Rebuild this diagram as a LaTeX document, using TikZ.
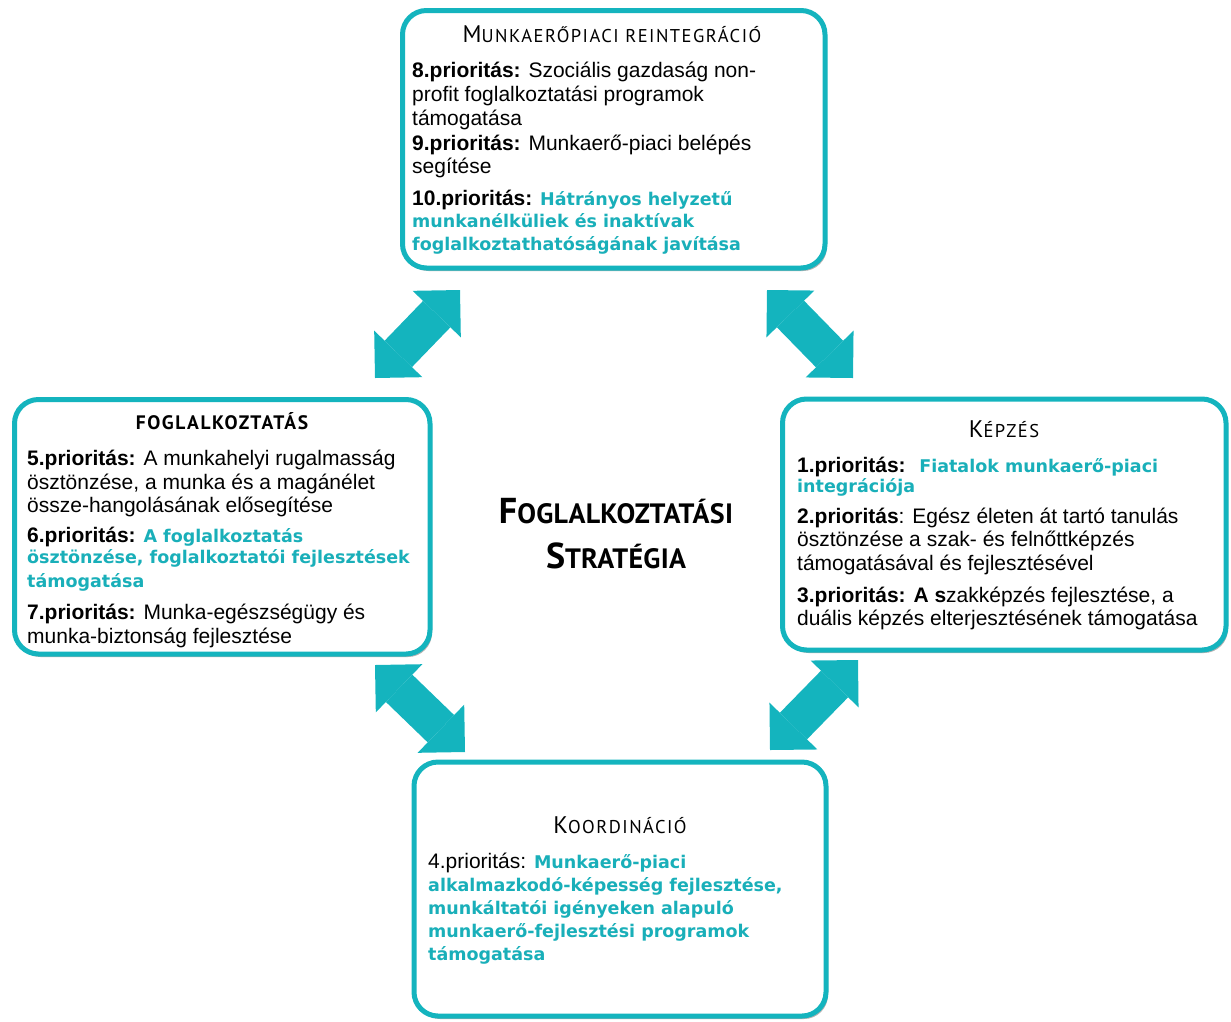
\documentclass[tikz,border=0pt]{standalone}
\usepackage{fontspec}
\setmainfont{Liberation Sans}
\newfontfamily\tealface{DejaVu Sans}
\newfontfamily\headface[LetterSpace=8]{PT Sans}
\newfontfamily\centface[LetterSpace=1]{PT Sans}
\usetikzlibrary{arrows.meta,shadows}
\definecolor{teal1}{RGB}{20,180,190}
\definecolor{tealtxt}{RGB}{25,175,185}
\newcommand\tl[1]{{\color{tealtxt}\tealface\bfseries\fontsize{17.5}{23.5}\selectfont #1}}
\newcommand\pr[1]{\textbf{#1}}
\newcommand\bigc[1]{{\fontsize{24}{24}\selectfont #1}}
\newcommand\smallc[1]{{\fontsize{18.5}{24}\selectfont #1}}
\begin{document}
\begin{tikzpicture}[x=1pt,y=-1pt,
  box/.style={draw=teal1, line width=5pt, rounded corners=24pt, fill=white,
     drop shadow={shadow xshift=2pt, shadow yshift=-3pt, opacity=0.3, fill=black}, inner sep=0pt},
  body/.style={anchor=base west, align=left, inner sep=0pt, font=\fontsize{21}{23.5}\selectfont},
  title/.style={anchor=base, inner sep=0pt, font=\headface},
  centre/.style={anchor=base, inner sep=0pt, font=\centface\bfseries},
  dbl/.style={line width=38pt, draw=teal1,
     {Triangle[width=67pt,length=33.5pt,line width=0pt]}-{Triangle[width=67pt,length=33.5pt,line width=0pt]}}
]
\useasboundingbox (0,0) rectangle (1231,1021);

% boxes
\node[box, minimum width=422.5pt, minimum height=257.5pt] (topbox) at (613.75,139.25) {};
\node[box, minimum width=415.5pt, minimum height=254.5pt] (leftbox) at (222.25,526.75) {};
\node[box, minimum width=443.5pt, minimum height=251pt] (rightbox) at (1004.25,524.5) {};
\node[box, minimum width=412pt, minimum height=254pt] (botbox) at (620,889) {};

% titles
\node[title] (toptitle) at (612,42) {\bigc{M}\smallc{UNKAERŐPIACI REINTEGRÁCIÓ}};
\node[title] (lefttitle) at (222,429) {\fontsize{19.5}{24}\selectfont\bfseries FOGLALKOZTATÁS};
\node[title] (righttitle) at (1004,437) {\bigc{K}\smallc{ÉPZÉS}};
\node[title] (bottitle) at (620,833) {\bigc{K}\smallc{OORDINÁCIÓ}};

% bodies (anchored at the baseline of the last line)
\node[body] (topbody) at (412,250) {\pr{8.prioritás:} Szociális gazdaság non-\\[0.5pt]
profit foglalkoztatási programok\\[1pt]
támogatása\\[1pt]
\pr{9.prioritás:} Munkaerő-piaci belépés\\
segítése\\[8pt]
\pr{10.prioritás:} \tl{Hátrányos helyzetű}\\[-1pt]
\tl{munkanélküliek és inaktívak}\\[-1pt]
\tl{foglalkoztathatóságának javítása}};

\node[body] (leftbody) at (27,643) {\pr{5.prioritás:} A munkahelyi rugalmasság\\
ösztönzése, a munka és a magánélet\\
össze-hangolásának elősegítése\\[6pt]
\pr{6.prioritás:} \tl{A foglalkoztatás}\\[-2pt]
\tl{ösztönzése, foglalkoztatói fejlesztések}\\
\tl{támogatása}\\[9pt]
\pr{7.prioritás:} Munka-egészségügy és\\
munka-biztonság fejlesztése};

\node[body] (rightbody) at (797,625) {\pr{1.prioritás:} \ \tl{Fiatalok munkaerő-piaci}\\[-3pt]
\tl{integrációja}\\[7pt]
\pr{2.prioritás}: Egész életen át tartó tanulás\\
ösztönzése a szak- és felnőttképzés\\
támogatásával és fejlesztésével\\[9pt]
\pr{3.prioritás: A s}zakképzés fejlesztése, a\\[-1pt]
duális képzés elterjesztésének támogatása};

\node[body] (botbody) at (428,960) {4.prioritás: \tl{Munkaerő-piaci}\\[-0.5pt]
\tl{alkalmazkodó-képesség fejlesztése,}\\[-0.5pt]
\tl{munkáltatói igényeken alapuló}\\[-0.5pt]
\tl{munkaerő-fejlesztési programok}\\[-0.5pt]
\tl{támogatása}};

% centre
\node[centre] (centre1) at (616,523) {{\fontsize{36}{38}\selectfont F}{\fontsize{28}{38}\selectfont OGLALKOZTATÁSI}};
\node[centre] (centre2) at (616,568) {{\fontsize{36}{38}\selectfont S}{\fontsize{28}{38}\selectfont TRATÉGIA}};

% arrows
\coordinate (ula) at (375,378);
\coordinate (ulb) at (460,290);
\coordinate (ura) at (767,290);
\coordinate (urb) at (853,378);
\coordinate (lla) at (375,665);
\coordinate (llb) at (465,752);
\coordinate (lra) at (858,660);
\coordinate (lrb) at (770,750);
\draw[dbl] (ula) -- (ulb);
\draw[dbl] (ura) -- (urb);
\draw[dbl] (lla) -- (llb);
\draw[dbl] (lra) -- (lrb);
\end{tikzpicture}
\end{document}
